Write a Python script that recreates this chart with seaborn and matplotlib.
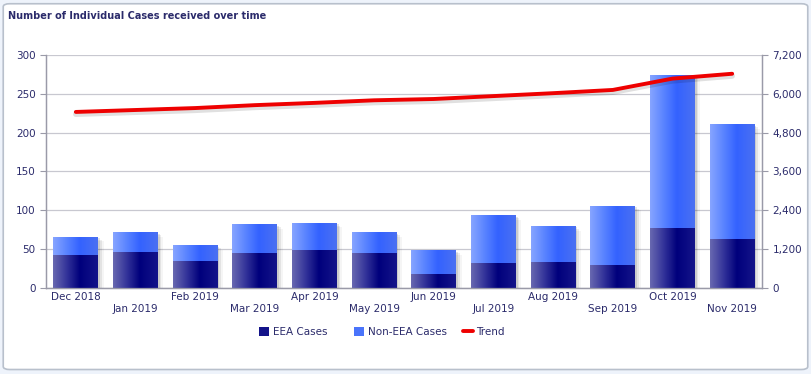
import matplotlib
matplotlib.use("Agg")
import matplotlib.pyplot as plt
import seaborn as sns
import pandas as pd
import numpy as np
from matplotlib.patches import FancyBboxPatch, Rectangle
from matplotlib.colors import LinearSegmentedColormap
from matplotlib.ticker import FuncFormatter

months = ["Dec 2018", "Jan 2019", "Feb 2019", "Mar 2019", "Apr 2019", "May 2019",
          "Jun 2019", "Jul 2019", "Aug 2019", "Sep 2019", "Oct 2019", "Nov 2019"]
eea_cases = [43, 46, 35, 45, 49, 45, 18, 32, 33, 30, 77, 63]
non_eea_cases = [23, 26, 20, 37, 35, 27, 31, 62, 47, 76, 197, 148]
trend = [5440, 5500, 5560, 5650, 5720, 5800, 5840, 5930, 6020, 6120, 6470, 6620]

TXT = "#2b2b6b"
EEA_COL = "#14148a"
NON_COL = "#4a74fb"

eea_cmap = LinearSegmentedColormap.from_list(
    "eea", [(0, "#6868b0"), (0.3, "#34349a"), (0.6, "#00007c"), (1, "#14148a")])
non_cmap = LinearSegmentedColormap.from_list(
    "non", [(0, "#86a4ff"), (0.3, "#5a84ff"), (0.6, "#3462ff"), (1, "#4a70f2")])

df = pd.DataFrame({"month": months, "eea": eea_cases, "non": non_eea_cases, "trend": trend})
df["total"] = df["eea"] + df["non"]

sns.set_style("white")
plt.rcParams["font.family"] = ["DejaVu Sans"]

fig = plt.figure(figsize=(8.11, 3.74), dpi=100, facecolor="#eef3fb")
# outer frame
frame = FancyBboxPatch((0.004, 0.012), 0.992, 0.978, boxstyle="round,pad=0,rounding_size=0.008",
                       transform=fig.transFigure, fc="white", ec="#b8c0cc", lw=1.2, zorder=-10)
fig.patches.append(frame)
fig.text(0.010, 0.958, "Number of Individual Cases received over time", fontsize=7.0,
         fontweight="bold", color=TXT, va="center")

ax = fig.add_axes([0.0567, 0.2299, 0.8829, 0.6231])
ax.set_facecolor("none")

sns.barplot(data=df, x="month", y="total", color=NON_COL, saturation=1, width=0.75,
            ax=ax, label="Non-EEA Cases", zorder=3)
n_tot = len(ax.patches)
sns.barplot(data=df, x="month", y="eea", color=EEA_COL, saturation=1, width=0.75,
            ax=ax, label="EEA Cases", zorder=4)
ax.get_legend().remove()

grad = np.linspace(0, 1, 64).reshape(1, -1)
for i, p in enumerate(list(ax.patches)):
    p.set_edgecolor("none")
    x0, y0 = p.get_x(), p.get_y()
    w, h = p.get_width(), p.get_height()
    cmap = non_cmap if i < n_tot else eea_cmap
    z = 3.5 if i < n_tot else 4.5
    if i < n_tot:
        # soft shadow to the right
        for k, a in enumerate([0.10, 0.07, 0.04]):
            ax.add_patch(Rectangle((x0 + 0.03 + 0.03 * k, y0), w, h - 2 - 2 * k,
                                   fc="#000000", alpha=a, ec="none", zorder=2))
    im = ax.imshow(grad, cmap=cmap, extent=(x0, x0 + w, y0, y0 + h), aspect="auto",
                   zorder=z, interpolation="bilinear")
    im.set_clip_path(p)

ax.set_ylim(0, 300)
ax.set_yticks(range(0, 301, 50))
ax.set_xlim(-0.5, 11.5)
ax.grid(axis="y", color="#c8c8d0", lw=0.9, zorder=0)
ax.set_axisbelow(True)
ax.set_xlabel("")
ax.set_ylabel("")
ax.tick_params(axis="y", colors="#9a9aa8", labelcolor=TXT, labelsize=7.5, length=4, width=0.8)
ax.tick_params(axis="x", length=0, labelsize=7.5, labelcolor=TXT, pad=3)
labels = [("" if i % 2 == 0 else "\n") + m for i, m in enumerate(months)]
ax.set_xticks(range(len(months)))
ax.set_xticklabels(labels, linespacing=1.25)
ax.spines["top"].set_visible(False)
for s in ["left", "right", "bottom"]:
    ax.spines[s].set_color("#9a9aa8")
    ax.spines[s].set_linewidth(0.9)

ax2 = ax.twinx()
# shadow then line
sns.lineplot(x=list(range(len(months))), y=[v - 70 for v in trend], ax=ax2, color="#000000",
             alpha=0.12, lw=4, legend=False)
sns.lineplot(x=list(range(len(months))), y=trend, ax=ax2, color="#ee0000", lw=2.8,
             label="Trend", legend=False)
ax2.set_ylim(0, 7200)
ax2.set_yticks(range(0, 7201, 1200))
ax2.yaxis.set_major_formatter(FuncFormatter(lambda v, p: f"{int(v):,}"))
ax2.tick_params(axis="y", colors="#9a9aa8", labelcolor=TXT, labelsize=7.5, length=4, width=0.8)
ax2.spines["top"].set_visible(False)
for s in ["left", "right", "bottom"]:
    ax2.spines[s].set_color("#9a9aa8")
    ax2.spines[s].set_linewidth(0.9)
ax2.set_ylabel("")

h1, l1 = ax.get_legend_handles_labels()
h2, l2 = ax2.get_legend_handles_labels()
hd = dict(zip(l1 + l2, h1 + h2))
fig.legend([hd["EEA Cases"], hd["Non-EEA Cases"]], ["EEA Cases", "Non-EEA Cases"],
           loc="center left", bbox_to_anchor=(0.308, 0.112), ncol=2,
           frameon=False, fontsize=7.5, labelcolor=TXT, handlelength=0.9,
           handleheight=0.9, handletextpad=0.4, columnspacing=2.6)
fig.legend([hd["Trend"]], ["Trend"], loc="center left", bbox_to_anchor=(0.559, 0.112),
           frameon=False, fontsize=7.5, labelcolor=TXT, handlelength=1.0,
           handletextpad=0.3)

fig.savefig("out.png", dpi=100, facecolor=fig.get_facecolor())
